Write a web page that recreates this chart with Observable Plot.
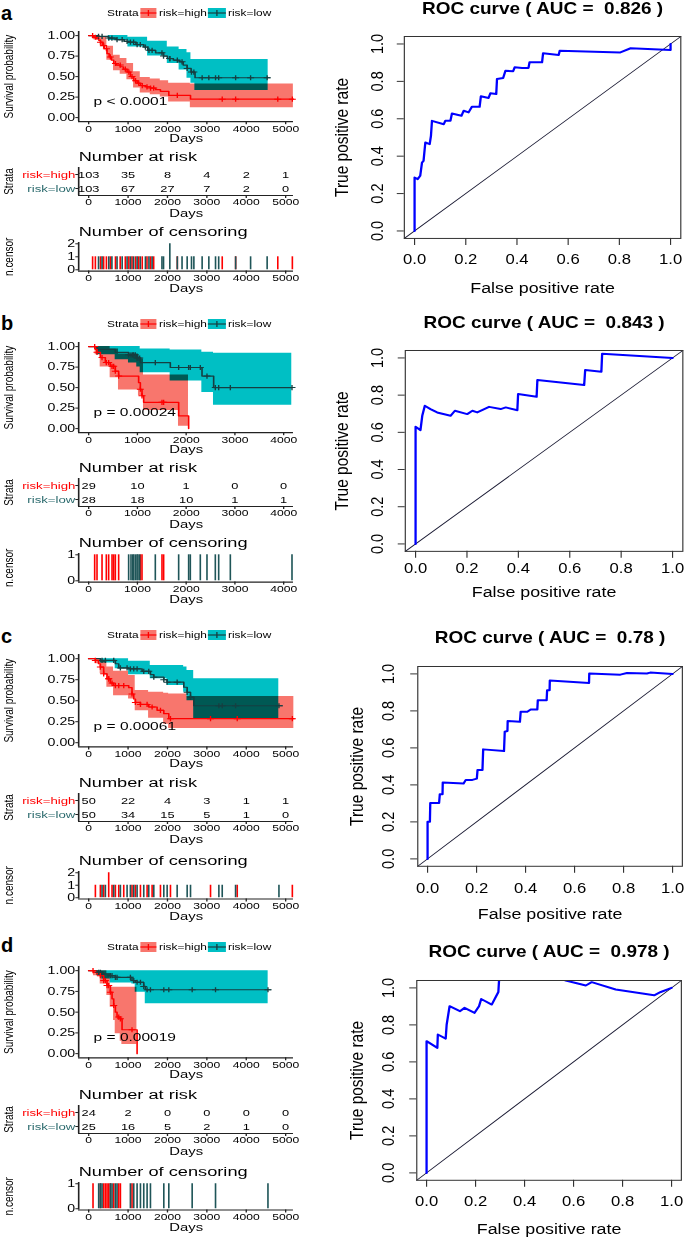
<!DOCTYPE html>
<html><head><meta charset="utf-8">
<script src="https://cdn.jsdelivr.net/npm/d3@7"></script>
<script src="https://cdn.jsdelivr.net/npm/@observablehq/plot@0.6"></script>
<style>
body{margin:0;background:#fff;font-family:"Liberation Sans",Arial,sans-serif;}
#page{position:relative;width:685px;height:1238px;overflow:hidden;background:#fff}
.col{position:absolute;top:0;height:1238px;transform-origin:0 0;}
.col svg{position:absolute;left:0;overflow:visible}
.col svg text{white-space:pre}
.lbl{position:absolute;white-space:pre;line-height:1;color:#000}
</style></head><body><div id="page"></div>
<script>
// ================= DATA =================
const strata = ["risk=high", "risk=low"];

// ---- Panel a
const aHighT = [0,130,200,260,300,350,400,466,520,580,635,700,805,880,975,1060,1144,1230,1314,1450,1568,1700,1822,2034,2585,5200];
const aHighS = [1,0.98,0.96,0.94,0.92,0.88,0.84,0.78,0.74,0.70,0.66,0.64,0.62,0.59,0.555,0.50,0.45,0.42,0.39,0.375,0.36,0.34,0.32,0.27,0.225,0.225];
const aHighBandT = [0,130,300,466,635,805,975,1144,1314,1568,1822,2034,2585,5200];
const aHighLo = [1,0.95,0.86,0.70,0.57,0.53,0.46,0.36,0.30,0.28,0.25,0.19,0.12,0.12];
const aHighHi = [1,1,0.98,0.87,0.76,0.72,0.66,0.56,0.49,0.47,0.45,0.42,0.41,0.41];
const aLowT = [0,250,500,700,900,1000,1200,1400,1500,1700,1900,2000,2150,2300,2400,2500,2600,2700,4600];
const aLowS = [1,0.99,0.97,0.95,0.93,0.92,0.89,0.86,0.82,0.79,0.75,0.72,0.70,0.68,0.64,0.60,0.555,0.486,0.486];
const aLowBandT = [0,500,1000,1500,2000,2300,2500,2600,2700,4560];
const aLowLo = [1,0.94,0.86,0.75,0.66,0.58,0.48,0.42,0.33,0.33];
const aLowHi = [1,1,0.98,0.93,0.86,0.83,0.79,0.71,0.71,0.71];
const aCensHigh = [100,170,300,380,450,550,680,800,930,1020,1100,1190,1270,1360,1480,1570,1650,2250,3390,3730,4800,5170];
const aCensLow = [250,340,510,590,720,850,975,1060,1140,1230,1310,1440,1530,1610,1860,1900,2060,2060,2250,2370,2500,2610,2670,2880,3050,3220,3300,3730,4110,4530];
const aRiskT = [0,1000,2000,3000,4000,5000];
const aRiskHigh = [103,35,8,4,2,1];
const aRiskLow = [103,67,27,7,2,0];
const aPval = "p < 0.0001";
const aAUC = "0.826";
const aFpr = [0,0,0.012,0.022,0.029,0.035,0.042,0.059,0.064,0.068,0.114,0.12,0.14,0.146,0.183,0.192,0.211,0.224,0.254,0.259,0.289,0.296,0.319,0.322,0.346,0.355,0.385,0.391,0.42,0.445,0.449,0.498,0.502,0.563,0.567,0.804,0.844,1,1];
const aTpr = [0,0.286,0.277,0.295,0.366,0.375,0.473,0.464,0.509,0.589,0.571,0.589,0.589,0.628,0.616,0.643,0.634,0.664,0.664,0.72,0.711,0.736,0.732,0.813,0.818,0.857,0.854,0.875,0.871,0.872,0.902,0.902,0.95,0.941,0.964,0.955,0.977,0.968,1];

// ---- Panel b
const bHighT = [0,137,171,240,342,444,547,615,1025,1060,1094,1128,1846,2051];
const bHighS = [1,0.967,0.93,0.866,0.805,0.76,0.70,0.64,0.56,0.48,0.40,0.32,0.154,0];
const bHighBandT = [0,137,240,444,615,1025,1128,1846,2051];
const bHighLo = [1,0.90,0.75,0.62,0.47,0.40,0.22,0.03,0.03];
const bHighHi = [1,1,1,0.97,0.91,0.85,0.655,0.655,0.655];
const bLowT = [0,171,547,820,990,1060,1675,2325,2564,4170];
const bLowS = [1,0.967,0.93,0.90,0.86,0.805,0.745,0.64,0.50,0.50];
const bLowBandT = [0,171,547,820,990,1060,1675,2325,2564,4170];
const bLowLo = [1,0.90,0.84,0.80,0.75,0.68,0.58,0.44,0.285,0.285];
const bLowHi = [1,1,1,1,1,0.97,0.96,0.93,0.92,0.92];
const bCensHigh = [123,171,274,362,410,479,513,547,615,1060,1094,1504,1538];
const bCensLow = [820,868,903,923,957,991,1012,1046,1367,1846,2051,2085,2290,2427,2598,2667,2906,4171];
const bRiskT = [0,1000,2000,3000,4000];
const bRiskHigh = [29,10,1,0,0];
const bRiskLow = [28,18,10,1,1];
const bPval = "p = 0.00024";
const bAUC = "0.843";
const bFpr = [0,0,0.019,0.026,0.036,0.058,0.084,0.136,0.153,0.201,0.221,0.24,0.286,0.331,0.351,0.396,0.399,0.471,0.474,0.656,0.66,0.723,0.726,1];
const bTpr = [0,0.63,0.612,0.689,0.743,0.725,0.707,0.689,0.716,0.698,0.716,0.707,0.737,0.725,0.734,0.719,0.806,0.791,0.881,0.854,0.935,0.926,1.022,1];

// ---- Panel c
const cHighT = [0,170,250,297,381,466,551,636,1017,1100,1144,1186,1314,1525,1737,1907,2034,5212];
const cHighS = [1,0.98,0.94,0.90,0.82,0.76,0.71,0.68,0.655,0.58,0.52,0.48,0.456,0.425,0.385,0.345,0.286,0.286];
const cHighBandT = [0,170,297,466,636,1017,1186,1525,1907,2034,2500,5212];
const cHighLo = [1,0.94,0.82,0.66,0.56,0.52,0.38,0.29,0.22,0.17,0.17,0.17];
const cHighHi = [1,1,0.98,0.90,0.85,0.80,0.62,0.60,0.59,0.58,0.55,0.55];
const cLowT = [0,297,678,763,1017,1356,1568,1652,1907,1992,2415,2500,2585,2670,4915];
const cLowS = [1,0.98,0.94,0.89,0.88,0.85,0.81,0.78,0.75,0.72,0.66,0.60,0.54,0.44,0.44];
const cLowBandT = [0,297,678,1017,1568,1992,2415,2500,2670,4830];
const cLowLo = [1,0.95,0.88,0.81,0.76,0.68,0.60,0.50,0.286,0.286];
const cLowHi = [1,1,1,0.97,0.92,0.92,0.90,0.86,0.76,0.76];
const cCensHigh = [170,297,381,508,508,593,678,763,890,1100,1186,1314,1483,1610,1822,2076,3093,3771,5170];
const cCensLow = [339,424,636,805,975,1059,1144,1229,1398,1525,1653,1907,1992,2246,2500,2585,3305,3390,3729,4830];
const cRiskT = [0,1000,2000,3000,4000,5000];
const cRiskHigh = [50,22,4,3,1,1];
const cRiskLow = [50,34,15,5,1,0];
const cPval = "p = 0.00061";
const cAUC = "0.78";
const cFpr = [0,0,0.0095,0.011,0.047,0.05,0.061,0.062,0.147,0.156,0.183,0.201,0.204,0.224,0.227,0.312,0.315,0.326,0.327,0.377,0.38,0.407,0.421,0.448,0.45,0.486,0.488,0.498,0.499,0.659,0.66,0.787,0.814,0.895,0.909,1];
const cTpr = [0,0.201,0.201,0.302,0.302,0.35,0.35,0.413,0.408,0.427,0.427,0.434,0.481,0.481,0.592,0.583,0.687,0.691,0.745,0.741,0.795,0.795,0.808,0.808,0.858,0.858,0.912,0.912,0.964,0.951,1.002,0.996,1.005,1.002,1.007,1];

// ---- Panel d
const dHighT = [0,127,212,297,381,466,551,593,636,678,720,805,847,1229];
const dHighS = [1,0.98,0.96,0.94,0.88,0.82,0.74,0.66,0.58,0.50,0.44,0.42,0.288,0];
const dHighBandT = [0,127,297,466,551,636,678,805,847,1229];
const dHighLo = [1,0.94,0.84,0.70,0.56,0.40,0.24,0.15,0.11,0.11];
const dHighHi = [1,1,1,0.96,0.80,0.80,0.80,0.80,0.80,0.80];
const dLowT = [0,212,339,551,678,1100,1186,1398,1441,4619];
const dLowS = [1,0.98,0.96,0.94,0.92,0.88,0.86,0.81,0.77,0.77];
const dLowBandT = [0,212,339,551,1100,1186,1441,4560];
const dLowLo = [1,0.94,0.90,0.85,0.84,0.74,0.60,0.60];
const dLowHi = [1,1,1,1,1,1,1,1];
const dCensHigh = [110,297,381,424,466,508,551,636,763,805,1100];
const dCensLow = [254,297,339,551,593,678,720,1059,1144,1229,1314,1398,1483,1568,1907,2034,2627,3220,4551];
const dRiskT = [0,1000,2000,3000,4000,5000];
const dRiskHigh = [24,2,0,0,0,0];
const dRiskLow = [25,16,5,2,1,0];
const dPval = "p = 0.00019";
const dAUC = "0.978";
const dFpr = [0,0,0.044,0.046,0.078,0.082,0.094,0.136,0.155,0.196,0.214,0.223,0.266,0.293,0.296,0.43,0.568,0.65,0.674,0.772,0.929,0.956,1];
const dTpr = [0,0.712,0.676,0.748,0.726,0.802,0.901,0.874,0.892,0.865,0.901,0.94,0.91,0.978,1.045,1.12,1.04,1.013,1.031,0.991,0.96,0.978,1];

const rocTicks = [0,0.2,0.4,0.6,0.8,1];

// ================= STYLE / LAYOUT =================
const FONT = '"Liberation Sans", Arial, sans-serif';
const SL = 1.35, SR = 1.15;
const RED = "#FF0000", RED_BAND = "#F8766D", TEAL_BAND = "#00BFC4";
const LOW_LINE = "#163F41", LOW_TEXT = "#2B6A6D", LOW_BAR = "#1F5558", AXIS = "#222";

const page = document.getElementById("page");
function makeCol(left, width, s) {
  const div = document.createElement("div");
  div.className = "col";
  div.style.left = left + "px";
  div.style.width = (width / s) + "px";
  div.style.transform = `scaleX(${s})`;
  page.appendChild(div);
  return {div, left, s, W: width / s, X: px => (px - left) / s};
}
const L = makeCol(0, 330, SL), R = makeCol(330, 355, SR);

const lin = (v0, p0, v1, p1) => v => p0 + (v - v0) * (p1 - p0) / (v1 - v0);
const inv = (v0, p0, v1, p1) => p => v0 + (p - p0) * (v1 - v0) / (p1 - p0);

function addPlot(col, {top, height, xPx, xDomain, yPx, yDomain, marks}) {
  const a = col.X(xPx[0]), b = col.X(xPx[1]);
  const svg = Plot.plot({
    width: col.W, height,
    marginLeft: a, marginRight: col.W - b,
    marginTop: yPx[1] - top, marginBottom: top + height - yPx[0],
    x: {domain: xDomain, type: "linear"},
    y: {domain: yDomain, type: "linear"},
    style: {fontFamily: FONT, background: "transparent", overflow: "visible", color: "#000"},
    marks
  });
  svg.style.top = top + "px";
  d3.select(svg).selectAll('g[aria-label="area"]').style("mix-blend-mode", "multiply");
  col.div.appendChild(svg);
  return svg;
}

const plusSym = {draw(ctx, size) { const r = Math.sqrt(size / Math.PI); ctx.moveTo(-r, 0); ctx.lineTo(r, 0); ctx.moveTo(0, -r); ctx.lineTo(0, r); }};
function survAt(ts, ss, t) { let v = ss[0]; for (let i = 0; i < ts.length; i++) if (ts[i] <= t) v = ss[i]; return v; }
const steps = (t, s) => t.map((x, i) => ({t: x, s: s[i]}));
const band = (t, lo, hi) => t.map((x, i) => ({t: x, lo: lo[i], hi: hi[i]}));
const counts = times => d3.rollups(times, v => v.length, d => d).map(([t, n]) => ({t, n}));
const txt = d => d;

const rows = [
  {key: "a", letterY: 13, legendY: 13, xv: [0, 5000], xp: [88, 285], edge: [78, 293], xTicks: aRiskT,
   km: {p1: 35, p0: 117}, risk: {top: 167, bot: 195}, cens: {max: 2, p0: 269, pm: 243},
   hT: aHighT, hS: aHighS, hb: [aHighBandT, aHighLo, aHighHi], lT: aLowT, lS: aLowS, lb: [aLowBandT, aLowLo, aLowHi],
   cH: aCensHigh, cL: aCensLow, rT: aRiskT, rH: aRiskHigh, rL: aRiskLow, pval: aPval,
   roc: {xp: [414, 670], yp: [230, 43], titleDy: -27.5, tickDy: 20.5, labDy: 49.5, ytickDx: -26.8, ylabDx: -61.8, fpr: aFpr, tpr: aTpr, auc: aAUC}},
  {key: "b", letterY: 323, legendY: 324, xv: [0, 4000], xp: [88, 283], edge: [78, 293], xTicks: bRiskT,
   km: {p1: 346, p0: 428}, risk: {top: 478, bot: 506}, cens: {max: 1, p0: 580, pm: 554},
   hT: bHighT, hS: bHighS, hb: [bHighBandT, bHighLo, bHighHi], lT: bLowT, lS: bLowS, lb: [bLowBandT, bLowLo, bLowHi],
   cH: bCensHigh, cL: bCensLow, rT: bRiskT, rH: bRiskHigh, rL: bRiskLow, pval: bPval,
   roc: {xp: [415, 672], yp: [543, 357], titleDy: -27.6, tickDy: 17.4, labDy: 40.7, ytickDx: -28, ylabDx: -63, fpr: bFpr, tpr: bTpr, auc: bAUC}},
  {key: "c", letterY: 636, legendY: 635, xv: [0, 5000], xp: [88, 285], edge: [78, 293], xTicks: cRiskT,
   km: {p1: 658, p0: 742}, risk: {top: 793, bot: 821}, cens: {max: 2, p0: 897, pm: 872},
   hT: cHighT, hS: cHighS, hb: [cHighBandT, cHighLo, cHighHi], lT: cLowT, lS: cLowS, lb: [cLowBandT, cLowLo, cLowHi],
   cH: cCensHigh, cL: cCensLow, rT: cRiskT, rH: cRiskHigh, rL: cRiskLow, pval: cPval,
   roc: {xp: [427, 672], yp: [858, 673], titleDy: -28.6, tickDy: 21.6, labDy: 47.6, ytickDx: -29.2, ylabDx: -60.2, fpr: cFpr, tpr: cTpr, auc: cAUC}},
  {key: "d", letterY: 945, legendY: 947, xv: [0, 5000], xp: [88, 285], edge: [78, 293], xTicks: dRiskT,
   km: {p1: 970, p0: 1053}, risk: {top: 1105, bot: 1133}, cens: {max: 1, p0: 1208, pm: 1183},
   hT: dHighT, hS: dHighS, hb: [dHighBandT, dHighLo, dHighHi], lT: dLowT, lS: dLowS, lb: [dLowBandT, dLowLo, dLowHi],
   cH: dCensHigh, cL: dCensLow, rT: dRiskT, rH: dRiskHigh, rL: dRiskLow, pval: dPval,
   roc: {xp: [426, 671], yp: [1172, 987], titleDy: -28.6, tickDy: 20.6, labDy: 48.6, ytickDx: -28.2, ylabDx: -59.2, fpr: dFpr, tpr: dTpr, auc: dAUC}}
];

const F = {ytick: 10.5, xtick: 9, days: 11, title: 13.5, table: 9.5, rowlab: 9.8, rot: 10, pval: 11.5, legend: 8.8};
const LEFT_LAB_DX = -(78 - 8) / SL;

function xAxisBits(xTicks, dyTick, dyDays) {
  return [
    Plot.axisX({ticks: xTicks, tickSize: 3, tickFormat: () => "", label: null, stroke: AXIS}),
    Plot.text(xTicks, {x: txt, frameAnchor: "bottom", dy: dyTick, text: d => String(d), fontSize: F.xtick, lineAnchor: "middle"}),
    Plot.text(["Days"], {frameAnchor: "bottom", dy: dyDays, text: txt, fontSize: F.days, lineAnchor: "middle"})
  ];
}
const rotLabel = (label, dx, size) => Plot.text([label], {frameAnchor: "left", dx, rotate: -90, textAnchor: "middle", lineAnchor: "middle", text: txt, fontSize: size});

for (const r of rows) {
  const xInv = inv(r.xv[0], r.xp[0], r.xv[1], r.xp[1]);
  const xDomain = r.edge.map(xInv);
  const xPx = r.edge;

  // panel letter
  const lt = document.createElement("div");
  lt.className = "lbl";
  lt.style.cssText += `left:1px;top:${r.letterY - 11}px;font-size:20px;font-weight:bold;line-height:22px;`;
  lt.textContent = r.key;
  page.appendChild(lt);

  // legend (inside stretched left column)
  const lg = document.createElement("div");
  lg.style.cssText = `position:absolute;left:0;top:${r.legendY - 6}px;height:12px;width:${L.W}px;font-size:${F.legend}px;font-family:${FONT};`;
  const item = (x, html) => `<div style="position:absolute;left:${L.X(x)}px;top:0;height:12px;line-height:12px;white-space:pre">${html}</div>`;
  const key = (x0, x1, fill, stroke) => {
    const w = L.X(x1) - L.X(x0);
    return item(x0, `<svg width="${w}" height="12" style="display:block"><rect x="0" y="1" width="${w}" height="10" fill="${fill}"/><line x1="0" x2="${w}" y1="6" y2="6" stroke="${stroke}" stroke-width="1.2"/><line x1="${w / 2}" x2="${w / 2}" y1="3" y2="9" stroke="${stroke}" stroke-width="1"/></svg>`);
  };
  lg.innerHTML = item(107, "Strata") + key(141, 157, RED_BAND, RED) + item(159, strata[0]) + key(208, 226, TEAL_BAND, LOW_LINE) + item(228, strata[1]);
  L.div.appendChild(lg);

  // ---- KM plot
  const k = r.km.p0 - r.km.p1;
  const kmTop = r.km.p1 - 0.05 * k, kmBot = r.km.p0 + 0.05 * k;
  const yTicks = [0, 0.25, 0.5, 0.75, 1];
  addPlot(L, {
    top: kmTop - 12, height: (kmBot + 24) - (kmTop - 12), xPx, xDomain, yPx: [kmBot, kmTop], yDomain: [-0.05, 1.05],
    marks: [
      Plot.areaY(band(...r.lb), {x: "t", y1: "lo", y2: "hi", curve: "step-after", fill: TEAL_BAND}),
      Plot.areaY(band(...r.hb), {x: "t", y1: "lo", y2: "hi", curve: "step-after", fill: RED_BAND}),
      Plot.line(steps(r.lT, r.lS), {x: "t", y: "s", curve: "step-after", stroke: LOW_LINE, strokeWidth: 1.2}),
      Plot.line(steps(r.hT, r.hS), {x: "t", y: "s", curve: "step-after", stroke: RED, strokeWidth: 1.2}),
      Plot.dot(r.cL, {x: txt, y: d => survAt(r.lT, r.lS, d), symbol: plusSym, r: 2.6, fill: "none", stroke: LOW_LINE, strokeWidth: 1}),
      Plot.dot(r.cH, {x: txt, y: d => survAt(r.hT, r.hS, d), symbol: plusSym, r: 2.6, fill: "none", stroke: RED, strokeWidth: 1}),
      Plot.ruleX([xDomain[0]], {stroke: AXIS, strokeWidth: 1.2}),
      Plot.ruleY([-0.05], {stroke: AXIS, strokeWidth: 1.2}),
      Plot.axisY({ticks: yTicks, tickSize: 2, tickFormat: () => "", label: null, stroke: AXIS}),
      Plot.text(yTicks, {y: txt, frameAnchor: "left", dx: -3.5 / SL, textAnchor: "end", lineAnchor: "middle", text: d3.format(".2f"), fontSize: F.ytick}),
      ...xAxisBits(r.xTicks, 7, 17),
      rotLabel("Survival probability", LEFT_LAB_DX, F.rot),
      Plot.text([r.pval], {x: () => r.xv[1] / 40, y: () => 0.2, text: txt, textAnchor: "start", lineAnchor: "middle", fontSize: F.pval})
    ]
  });

  // ---- Number at risk table (rows at 1.5 / 0.5 on a 0..2 scale)
  addPlot(L, {
    top: r.risk.top - 20, height: (r.risk.bot + 25) - (r.risk.top - 20), xPx, xDomain, yPx: [r.risk.bot, r.risk.top], yDomain: [0, 2],
    marks: [
      Plot.ruleX([xDomain[0]], {stroke: AXIS, strokeWidth: 1.2}),
      Plot.ruleY([0], {stroke: AXIS, strokeWidth: 1.2}),
      Plot.axisY({ticks: [0.5, 1.5], tickSize: 2, tickFormat: () => "", label: null, stroke: AXIS}),
      Plot.text(r.rT, {x: txt, y: () => 1.5, text: (d, i) => String(r.rH[i]), fontSize: F.table, lineAnchor: "middle"}),
      Plot.text(r.rT, {x: txt, y: () => 0.5, text: (d, i) => String(r.rL[i]), fontSize: F.table, lineAnchor: "middle"}),
      Plot.text([strata[0]], {frameAnchor: "left", y: () => 1.5, dx: -3.3 / SL, textAnchor: "end", lineAnchor: "middle", fill: RED, text: txt, fontSize: F.rowlab}),
      Plot.text([strata[1]], {frameAnchor: "left", y: () => 0.5, dx: -3.3 / SL, textAnchor: "end", lineAnchor: "middle", fill: LOW_TEXT, text: txt, fontSize: F.rowlab}),
      ...xAxisBits(r.xTicks, 7, 18),
      Plot.text(["Number at risk"], {frameAnchor: "top-left", dy: -10.5, textAnchor: "start", lineAnchor: "middle", text: txt, fontSize: F.title}),
      rotLabel("Strata", LEFT_LAB_DX, F.rot)
    ]
  });

  // ---- Number of censoring
  const cm = r.cens.max;
  const cLin = lin(0, r.cens.p0, cm, r.cens.pm);
  const cDom = [-0.05 * cm, 1.05 * cm];
  const cTicks = d3.range(0, cm + 1);
  addPlot(L, {
    top: cLin(cDom[1]) - 20, height: (cLin(cDom[0]) + 25) - (cLin(cDom[1]) - 20), xPx, xDomain, yPx: [cLin(cDom[0]), cLin(cDom[1])], yDomain: cDom,
    marks: [
      Plot.ruleX(counts(r.cH), {x: "t", y1: 0, y2: "n", stroke: RED, strokeWidth: 1.2}),
      Plot.ruleX(counts(r.cL), {x: "t", y1: 0, y2: "n", stroke: LOW_BAR, strokeWidth: 1.2}),
      Plot.ruleX([xDomain[0]], {stroke: AXIS, strokeWidth: 1.2}),
      Plot.ruleY([cDom[0]], {stroke: AXIS, strokeWidth: 1.2}),
      Plot.axisY({ticks: cTicks, tickSize: 2, tickFormat: () => "", label: null, stroke: AXIS}),
      Plot.text(cTicks, {y: txt, frameAnchor: "left", dx: -3.5 / SL, textAnchor: "end", lineAnchor: "middle", text: d => String(d), fontSize: F.ytick}),
      ...xAxisBits(r.xTicks, 6.7, 17.7),
      Plot.text(["Number of censoring"], {frameAnchor: "top-left", dy: -10.5, textAnchor: "start", lineAnchor: "middle", text: txt, fontSize: F.title}),
      rotLabel("n.censor", LEFT_LAB_DX, F.rot)
    ]
  });

  // ---- ROC curve
  const o = r.roc;
  const rDom = [-0.04, 1.04];
  const rx = lin(0, o.xp[0], 1, o.xp[1]), ry = lin(0, o.yp[0], 1, o.yp[1]);
  const boxTop = ry(1.04), boxBot = ry(-0.04);
  const roc = o.fpr.map((f, i) => ({f, t: o.tpr[i]}));
  addPlot(R, {
    top: boxTop - 40, height: (boxBot + 60) - (boxTop - 40), xPx: rDom.map(rx), xDomain: rDom, yPx: [boxBot, boxTop], yDomain: rDom,
    marks: [
      Plot.line(rDom.map(v => ({v})), {x: "v", y: "v", stroke: "#1a1a33", strokeWidth: 0.9}),
      Plot.line(roc, {x: "f", y: "t", stroke: "#0000FF", strokeWidth: 2, clip: true}),
      Plot.frame({stroke: "#333", strokeWidth: 1}),
      Plot.axisX({ticks: rocTicks, tickSize: 7, tickFormat: () => "", label: null, stroke: "#333"}),
      Plot.axisY({ticks: rocTicks, tickSize: 7 / SR, tickFormat: () => "", label: null, stroke: "#333"}),
      Plot.text(rocTicks, {x: txt, frameAnchor: "bottom", dy: o.tickDy, text: d3.format(".1f"), fontSize: 14.5, lineAnchor: "middle"}),
      Plot.text(rocTicks, {y: txt, frameAnchor: "left", dx: o.ytickDx / SR, rotate: -90, textAnchor: "middle", text: d3.format(".1f"), fontSize: 14.5, lineAnchor: "middle"}),
      Plot.text(["False positive rate"], {frameAnchor: "bottom", dy: o.labDy, text: txt, fontSize: 15.5, lineAnchor: "middle"}),
      rotLabel("True positive rate", o.ylabDx / SR, 15.5),
      Plot.text([`ROC curve ( AUC =  ${o.auc} )`], {frameAnchor: "top", dy: o.titleDy, text: txt, fontSize: 16.5, fontWeight: "bold", lineAnchor: "middle"})
    ]
  });
}
</script></body></html>
